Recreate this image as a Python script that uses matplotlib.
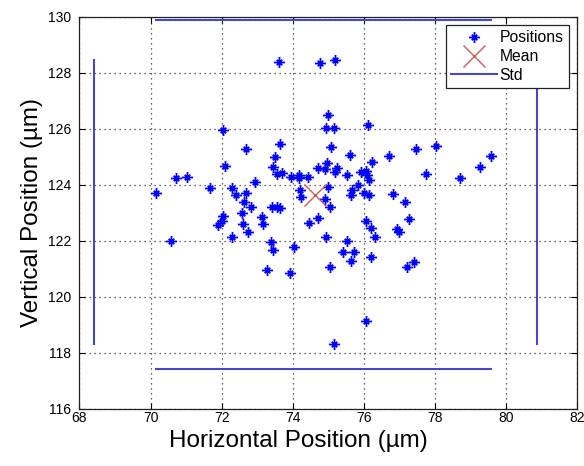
import numpy as np
import matplotlib
matplotlib.use('Agg')
import matplotlib.pyplot as plt
from matplotlib.path import Path

plt.rcParams['font.family'] = ['Liberation Sans', 'DejaVu Sans']

# positions (um)
pos_x = [70.16, 70.57, 70.72, 71.04, 71.67, 72.03, 72.10, 72.29, 72.41, 72.69,
         72.69, 72.62, 72.82, 72.57, 72.04, 72.01, 71.89, 72.61, 73.14, 73.17,
         72.73, 72.29, 72.95, 73.40, 73.46, 74.05, 73.28, 73.92, 73.61, 74.78,
         75.20, 74.99, 74.95, 75.17, 73.63, 75.08, 73.51, 73.45, 74.97, 74.70,
         74.92, 75.25, 75.20, 73.56, 73.70, 73.95, 74.17, 74.17, 74.43, 74.22,
         74.24, 74.99, 74.92, 75.04, 73.42, 73.57, 73.65, 74.70, 74.45, 74.95,
         75.04, 75.17, 76.11, 75.60, 76.72, 77.46, 78.02, 79.59, 79.27, 78.70,
         77.76, 76.24, 75.91, 76.05, 76.10, 76.16, 75.53, 75.83, 75.68, 75.65,
         76.02, 76.14, 76.82, 77.17, 76.05, 76.20, 76.33, 76.94, 76.99, 77.27,
         75.53, 75.42, 75.72, 75.65, 76.19, 77.22, 77.41, 76.05]
pos_y = [123.69, 121.99, 124.25, 124.29, 123.88, 125.95, 124.67, 123.90, 123.64, 123.72,
         125.26, 123.39, 123.19, 122.99, 122.88, 122.69, 122.56, 122.60, 122.86, 122.58,
         122.30, 122.12, 124.11, 121.94, 121.67, 121.76, 120.95, 120.86, 128.37, 128.34,
         128.45, 126.49, 126.01, 126.01, 125.44, 125.36, 125.00, 124.64, 124.76, 124.59,
         124.55, 124.59, 124.46, 124.38, 124.41, 124.29, 124.36, 124.23, 124.29, 123.81,
         123.57, 123.93, 123.49, 123.21, 123.19, 123.19, 123.16, 122.80, 122.62, 122.12,
         121.06, 118.31, 126.13, 125.06, 125.04, 125.26, 125.39, 125.04, 124.62, 124.25,
         124.38, 124.80, 124.45, 124.49, 124.33, 124.17, 124.33, 124.00, 123.81, 123.63,
         123.69, 123.63, 123.66, 123.38, 122.72, 122.47, 122.12, 122.42, 122.30, 122.78,
         121.99, 121.61, 121.61, 121.28, 121.43, 121.05, 121.23, 119.14]

mean_x, mean_y = 74.64, 123.63

# std box: lines at mean +/- spread, spanning the data range
std_left, std_right = 68.41, 80.88
std_bottom, std_top = 117.42, 129.88
span_x = [70.16, 79.59]
span_y = [118.31, 128.45]

# matlab-like asterisk
star = Path([(-1, 0), (1, 0), (0, -1), (0, 1), (-.5, -.5), (.5, .5), (-.5, .5), (.5, -.5)],
            [Path.MOVETO, Path.LINETO] * 4)

fig = plt.figure(figsize=(5.84, 4.66), dpi=100)
ax = fig.add_axes([0.136, 0.123, 0.852, 0.841])

ax.plot(pos_x, pos_y, linestyle='none', marker=star, markersize=8,
        markeredgewidth=1.3, color='#0000ff', label='Positions')
ax.plot([mean_x], [mean_y], linestyle='none', marker='x', markersize=16,
        markeredgewidth=1.0, color='#c0605a', label='Mean')
std_col = '#4848c4'
ax.plot([std_left, std_left], span_y, color=std_col, lw=1.5, label='Std')
ax.plot([std_right, std_right], span_y, color=std_col, lw=1.5)
ax.plot(span_x, [std_top, std_top], color=std_col, lw=1.5)
ax.plot(span_x, [std_bottom, std_bottom], color=std_col, lw=1.5)

ax.set_xlim(68, 82)
ax.set_ylim(116, 130)
ax.set_xticks(np.arange(68, 83, 2))
ax.set_yticks(np.arange(116, 131, 2))
ax.tick_params(direction='in', length=4, top=True, right=True, labelsize=10)
ax.tick_params(axis='x', pad=2)
ax.tick_params(axis='y', pad=6)
ax.grid(True, linestyle=(0, (1, 3)), color='#333333', lw=0.9)
for s in ax.spines.values():
    s.set_color('#222222')
    s.set_linewidth(0.9)

ax.set_xlabel('Horizontal Position (µm)', fontsize=17.5)
ax.xaxis.set_label_coords(0.44, -0.054)
ax.set_ylabel('Vertical Position (µm)', fontsize=17.5)
ax.yaxis.set_label_coords(-0.073, 0.5)

leg = ax.legend(loc='upper right', fontsize=11.3, fancybox=False, framealpha=1,
                edgecolor='#222222', borderpad=0.35, handlelength=2.9,
                handletextpad=0.2, labelspacing=0.25, borderaxespad=0.5)
leg.get_frame().set_linewidth(0.9)

fig.savefig('out.png', dpi=100)
